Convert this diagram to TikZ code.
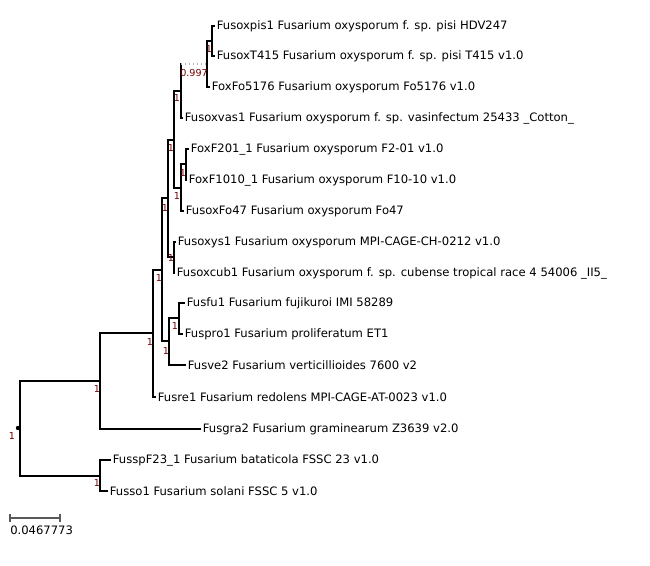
\documentclass[tikz,border=0pt]{standalone}
\usepackage{fontspec}
\setmainfont{DejaVu Sans}
\usetikzlibrary{positioning}

\tikzset{
  branch/.style={line width=1.4pt, line cap=rect},
  leaf/.style={anchor=west, inner xsep=2pt, inner ysep=1pt, font=\fontsize{8.7}{10}\selectfont},
  boot/.style={text=red!45!black, font=\fontsize{7.2}{8}\selectfont, inner sep=0pt}
}

\begin{document}
\begin{tikzpicture}[x=0.75pt, y=-0.75pt]
\useasboundingbox (0,0) rectangle (650,566);

% Leaves
\node[leaf] (pis) at (214,26) {Fusoxpis1 Fusarium oxysporum f. sp. pisi HDV247};
\node[leaf] (tfo) at (214,56) {FusoxT415 Fusarium oxysporum f. sp. pisi T415 v1.0};
\node[leaf] (fo5) at (209,87) {FoxFo5176 Fusarium oxysporum Fo5176 v1.0};
\node[leaf] (vas) at (182,118) {Fusoxvas1 Fusarium oxysporum f. sp. vasinfectum 25433 \_Cotton\_};
\node[leaf] (f201) at (188,149) {FoxF201\_1 Fusarium oxysporum F2-01 v1.0};
\node[leaf] (f1010) at (186,180) {FoxF1010\_1 Fusarium oxysporum F10-10 v1.0};
\node[leaf] (fo47) at (183,211) {FusoxFo47 Fusarium oxysporum Fo47};
\node[leaf] (ys) at (175,242) {Fusoxys1 Fusarium oxysporum MPI-CAGE-CH-0212 v1.0};
\node[leaf] (cub) at (174,273) {Fusoxcub1 Fusarium oxysporum f. sp. cubense tropical race 4 54006 \_II5\_};
\node[leaf] (fu) at (184,303) {Fusfu1 Fusarium fujikuroi IMI 58289};
\node[leaf] (pro) at (182,334) {Fuspro1 Fusarium proliferatum ET1};
\node[leaf] (ve) at (185,365) {Fusve2 Fusarium verticillioides 7600 v2};
\node[leaf] (re) at (155,397) {Fusre1 Fusarium redolens MPI-CAGE-AT-0023 v1.0};
\node[leaf] (gra) at (200,429) {Fusgra2 Fusarium graminearum Z3639 v2.0};
\node[leaf] (f23) at (110,460) {FusspF23\_1 Fusarium bataticola FSSC 23 v1.0};
\node[leaf] (so) at (107,491) {Fusso1 Fusarium solani FSSC 5 v1.0};

% Internal nodes
\coordinate (nA) at (212,41);
\coordinate (nB) at (207,64);
\coordinate (nC) at (181,91);
\coordinate (nF) at (186,164);
\coordinate (nE) at (181,188);
\coordinate (nD) at (174,140);
\coordinate (nH) at (174,257);
\coordinate (nG) at (168,198);
\coordinate (nK) at (179,318);
\coordinate (nL) at (169,341);
\coordinate (nI) at (162,270);
\coordinate (nM) at (153,333);
\coordinate (nN) at (100,381);
\coordinate (nO) at (100,476);
\coordinate (nR) at (20,428);

% Branches
\foreach \p/\c in {nA/pis, nA/tfo, nB/nA, nB/fo5, nC/vas, nF/f201, nF/f1010,
  nE/nF, nE/fo47, nD/nC, nD/nE, nH/ys, nH/cub, nG/nD, nG/nH, nK/fu, nK/pro,
  nL/nK, nL/ve, nI/nG, nI/nL, nM/nI, nM/re, nN/nM, nN/gra, nO/f23, nO/so,
  nR/nN, nR/nO}
  \draw[branch] (\p) |- (\c);
\draw[branch] (nC) -- (nC|-nB);
\draw[gray!60, dotted, line width=1pt] (nC|-nB) -- (nB);

% Support values
\node[boot] (bA) at (209,49) {1};
\node[boot] (bB) at (194,73) {0.997};
\node[boot] (bC) at (177,98) {1};
\node[boot] (bD) at (171,148) {1};
\node[boot] (bF) at (183,173) {1};
\node[boot] (bE) at (177,196) {1};
\node[boot] (bG) at (165,208) {1};
\node[boot] (bH) at (171,258) {1};
\node[boot] (bI) at (159,278) {1};
\node[boot] (bK) at (175,326) {1};
\node[boot] (bL) at (166,351) {1};
\node[boot] (bM) at (150,342) {1};
\node[boot] (bN) at (97,389) {1};
\node[boot] (bO) at (97,483) {1};
\node[boot] (bR) at (12,436) {1};
\fill (nR) ++(-2,0) circle (2.2);

% Scale bar
\coordinate (s0) at (10,518);
\coordinate (s1) at (60,518);
\draw[gray!70!black, line width=1pt] (s0) -- (s1) (s0) ++(0,-4) -- ++(0,8) (s1) ++(0,-4) -- ++(0,8);
\node[anchor=north west, inner sep=0pt, font=\fontsize{8.7}{10}\selectfont] (scale) at (10,526) {0.0467773};

\end{tikzpicture}
\end{document}
